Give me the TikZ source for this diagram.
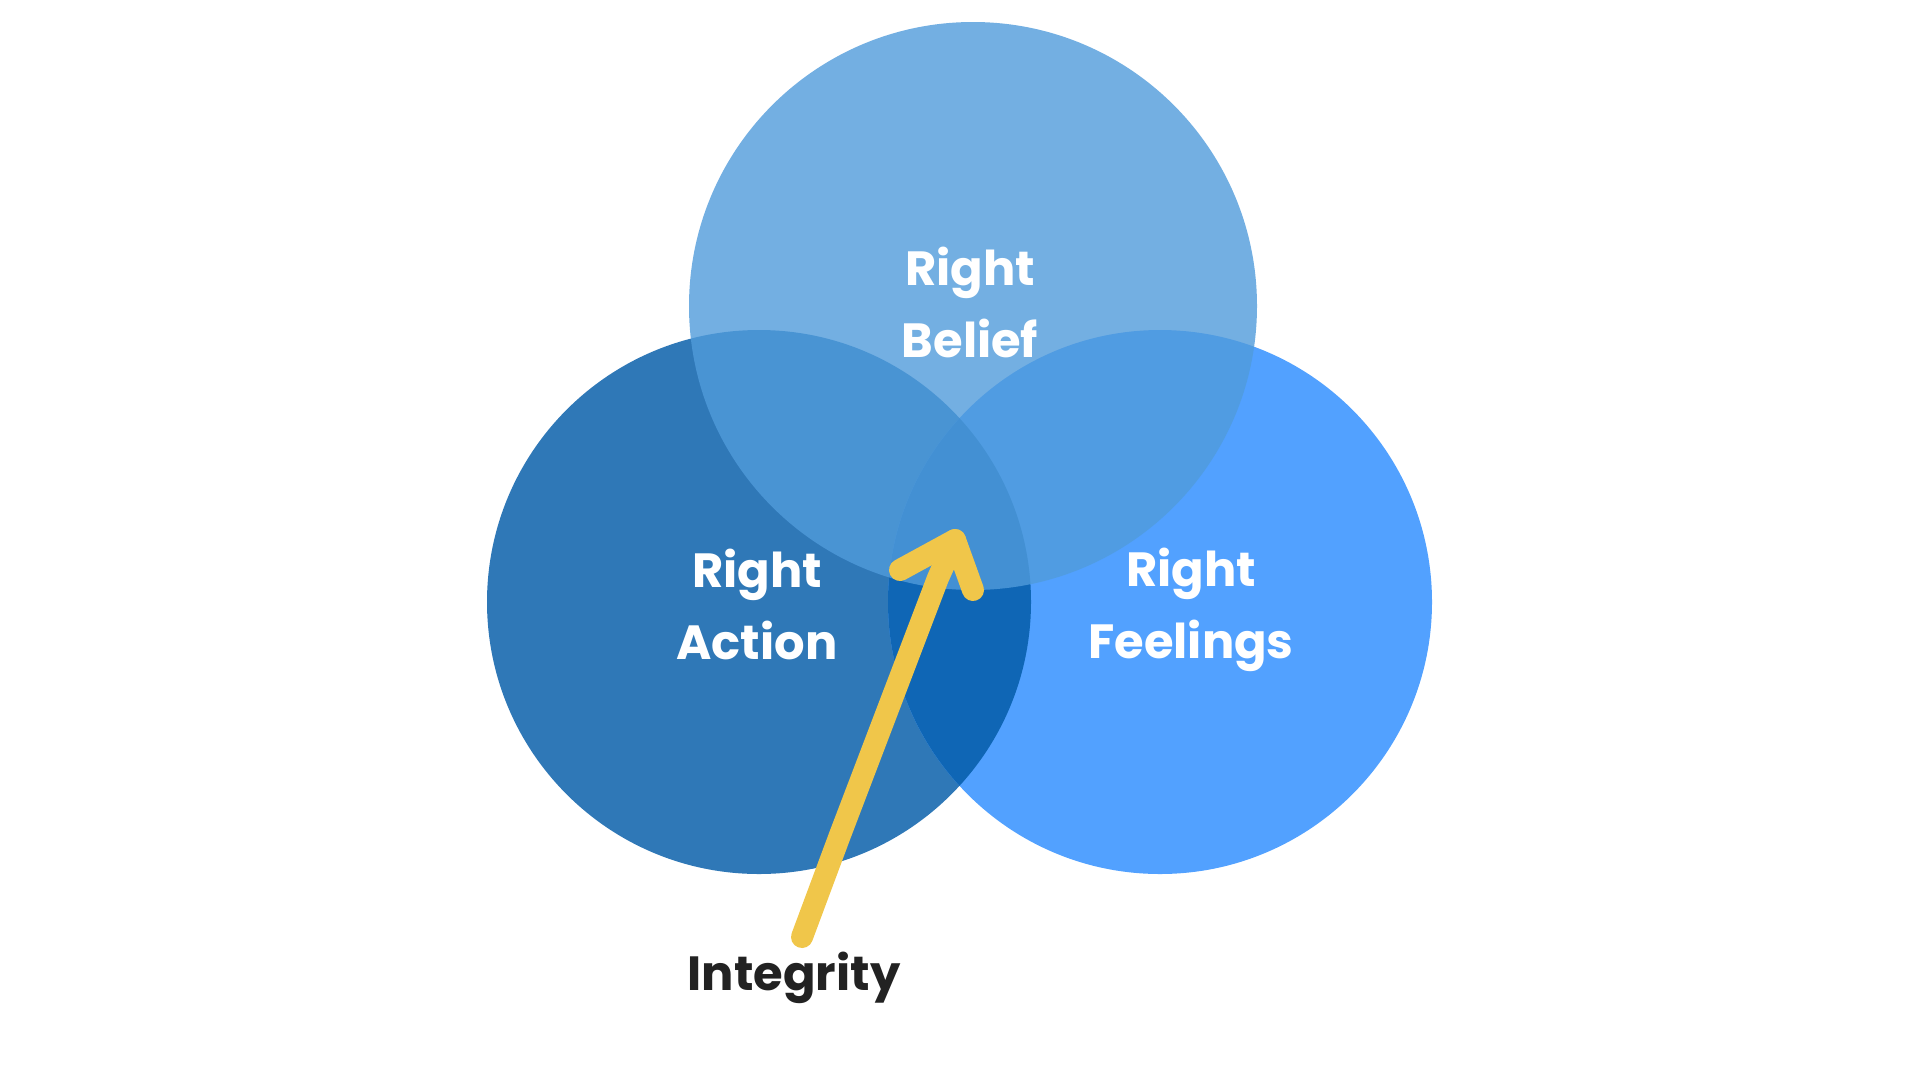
\documentclass[tikz,border=0pt]{standalone}
\usepackage{fontspec}
\setmainfont{Poppins}
\usepackage{tikz}
\usetikzlibrary{
	positioning,
	calc
}

\definecolor{actionblue}{RGB}{47,120,183}
\definecolor{feelingblue}{RGB}{82,161,255}
\definecolor{bothblue}{RGB}{15,102,181}
\definecolor{beliefblue}{RGB}{80,155,219}
\definecolor{arrowyellow}{RGB}{240,198,74}
\definecolor{textdark}{RGB}{34,34,34}

\begin{document}
\begin{tikzpicture}[
		x=1pt, y=-1pt,
		label/.style={align=center, inner sep=0pt, text=white, font=\fontsize{48}{72}\selectfont\bfseries},
		darklabel/.style={label, text=textdark},
		stroke/.style={draw=arrowyellow, line width=22pt, line cap=round, line join=round}
		]
		
		\useasboundingbox (0,0) rectangle (1920,1080);
		
		% --- Circles ---
		\coordinate (action) at (759,602);
		\coordinate (feeling) at (1160,602);
		\coordinate (belief) at (973,306);
		
		\fill[actionblue] (action) circle[radius=272pt];
		\fill[feelingblue] (feeling) circle[radius=272pt];
		\begin{scope}
			\clip (action) circle[radius=272pt];
			\fill[bothblue] (feeling) circle[radius=272pt];
		\end{scope}
		\fill[beliefblue, fill opacity=0.8] (belief) circle[radius=284pt];
		
		% --- Labels ---
		\node[label] (beliefText) at (970,302) {Right\\Belief};
		\node[label] (actionText) at (757,604) {Right\\Action};
		\node[label] (feelingText) at (1191,610) {Right\\Feelings};
		\node[darklabel] (integrity) at (794,978) {Integrity};
		
		% --- Arrow ---
		\coordinate (tail) at (802,937);
		\coordinate (tip) at (955,540);
		\coordinate (barbL) at (900,570);
		\coordinate (barbR) at (973,590);
		\draw[stroke] (tail) -- (840,835) -- (938,578) -- (tip);
		\draw[stroke] (barbL) -- (tip) -- (barbR);
		
	\end{tikzpicture}
\end{document}
